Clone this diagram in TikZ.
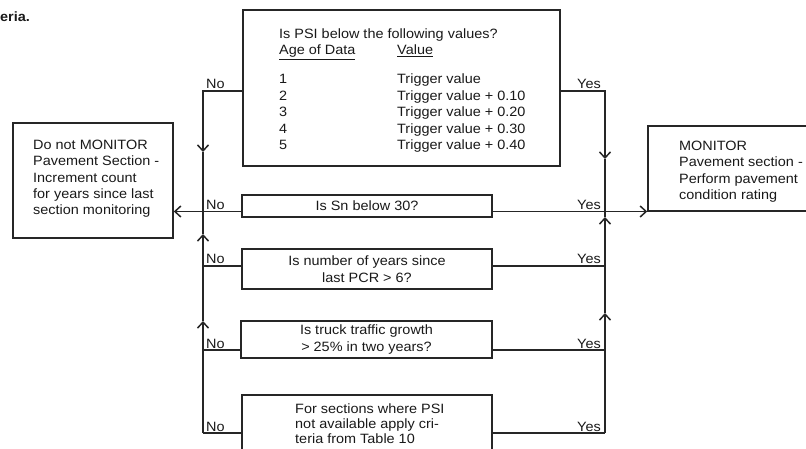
\documentclass[tikz,border=0pt]{standalone}
\usepackage{fontspec}
\setmainfont{Liberation Sans}[FakeStretch=1.07]
\usetikzlibrary{arrows.meta,positioning}

\newcommand{\chartfont}{\fontsize{13.5}{16.5}\selectfont}

\begin{document}
\begin{tikzpicture}[x=1pt, y=-1pt,
    qbox/.style={rectangle, draw=black!85, line width=1.5pt, inner sep=0pt,
        align=center, text=black!90, font=\chartfont},
    txt/.style={inner sep=0pt, anchor=base west, align=left, text=black!90, font=\chartfont},
    lbl/.style={inner sep=0pt, text=black!90, font=\chartfont},
    line/.style={draw=black!85, line width=1.5pt, -{Straight Barb[length=6pt,width=11pt]}},
    wire/.style={draw=black!85, line width=1.5pt}
]
    \useasboundingbox (0,0) rectangle (806,449);

    \node[lbl, anchor=base west, font=\chartfont\bfseries] (capt) at (0,22) {eria.};

    \node[qbox, minimum width=317, minimum height=156] (psi) at (401.5,88) {};
    \node[txt] (psitext) at (279,150) {Is PSI below the following values?\\
        \makebox[118pt][l]{\underline{Age of Data}}\underline{Value}\\[12.6pt]
        \makebox[118pt][l]{1}Trigger value\\
        \makebox[118pt][l]{2}Trigger value + 0.10\\
        \makebox[118pt][l]{3}Trigger value + 0.20\\
        \makebox[118pt][l]{4}Trigger value + 0.30\\
        \makebox[118pt][l]{5}Trigger value + 0.40};

    \node[qbox, minimum width=160, minimum height=115] (nomon) at (93,180.5) {};
    \node[txt] (nomontext) at (33,215) {Do not MONITOR\\ Pavement Section -\\ Increment count\\
        for years since last\\ section monitoring};

    \node[qbox, minimum width=182, minimum height=85] (mon) at (739,168.5) {};
    \node[txt] (montext) at (679,200) {MONITOR\\ Pavement section -\\ Perform pavement\\ condition rating};

    \node[qbox, minimum width=250, minimum height=22] (sn) at (367,206) {Is Sn below 30?};
    \node[qbox, minimum width=250, minimum height=40] (pcr) at (367,269) {Is number of years since\\ last PCR > 6?};
    \node[qbox, minimum width=251, minimum height=37] (truck) at (366.5,339.5) {Is truck traffic growth\\ > 25\% in two years?};
    \node[qbox, minimum width=250, minimum height=80] (tab) at (367,435) {};
    \node[txt] (tabtext) at (295,443) {For sections where PSI\\[-1.5pt] not available apply cri-\\[-1.5pt] teria from Table 10};

    \coordinate (nl) at (203,91);
    \coordinate (nr) at (605,91);
    \coordinate (al) at (203,152);
    \coordinate (ar) at (605,159);
    \coordinate (jl) at (203,211.5);
    \coordinate (jr) at (605,211.5);
    \coordinate (bl) at (203,234);
    \coordinate (br) at (605,217);
    \coordinate (cl) at (203,321);
    \coordinate (cr) at (605,313);
    \coordinate (sl) at (203,433);
    \coordinate (sr) at (605,433);

    \path[line] (psi.west |- nl) -- (nl) -- (al);
    \path[wire] (al) -- (jl);
    \path[line] (psi.east |- nr) -- (nr) -- (ar);
    \path[wire] (ar) -- (jr);

    \path[line] (sn.west |- jl) -- (nomon.east |- jl);
    \path[line] (sn.east |- jr) -- (mon.west |- jr);

    \path[wire] ([yshift=3pt]pcr.west) -- ([yshift=3pt]pcr.west -| jl);
    \path[wire] ([yshift=3pt]pcr.east) -- ([yshift=3pt]pcr.east -| jr);
    \path[wire] ([yshift=-10.5pt]truck.west) -- ([yshift=-10.5pt]truck.west -| jl);
    \path[wire] ([yshift=-10.5pt]truck.east) -- ([yshift=-10.5pt]truck.east -| jr);
    \path[wire] ([yshift=2pt]tab.west) -- (sl);
    \path[wire] ([yshift=2pt]tab.east) -- (sr);

    \path[line] (sl) -- (cl);
    \path[line] (cl) -- (bl);
    \path[wire] (bl) -- (jl);
    \path[line] (sr) -- (cr);
    \path[line] (cr) -- (br);
    \path[wire] (br) -- (jr);

    \node[lbl, anchor=base west] (no1) at (206,89) {No};
    \node[lbl, anchor=base west] (no2) at (206,209.5) {No};
    \node[lbl, anchor=base west] (no3) at (206,264) {No};
    \node[lbl, anchor=base west] (no4) at (206,348) {No};
    \node[lbl, anchor=base west] (no5) at (206,431) {No};
    \node[lbl, anchor=base east] (yes1) at (601,88.5) {Yes};
    \node[lbl, anchor=base east] (yes2) at (601,209.5) {Yes};
    \node[lbl, anchor=base east] (yes3) at (601,264) {Yes};
    \node[lbl, anchor=base east] (yes4) at (601,348) {Yes};
    \node[lbl, anchor=base east] (yes5) at (601,431) {Yes};
\end{tikzpicture}
\end{document}
